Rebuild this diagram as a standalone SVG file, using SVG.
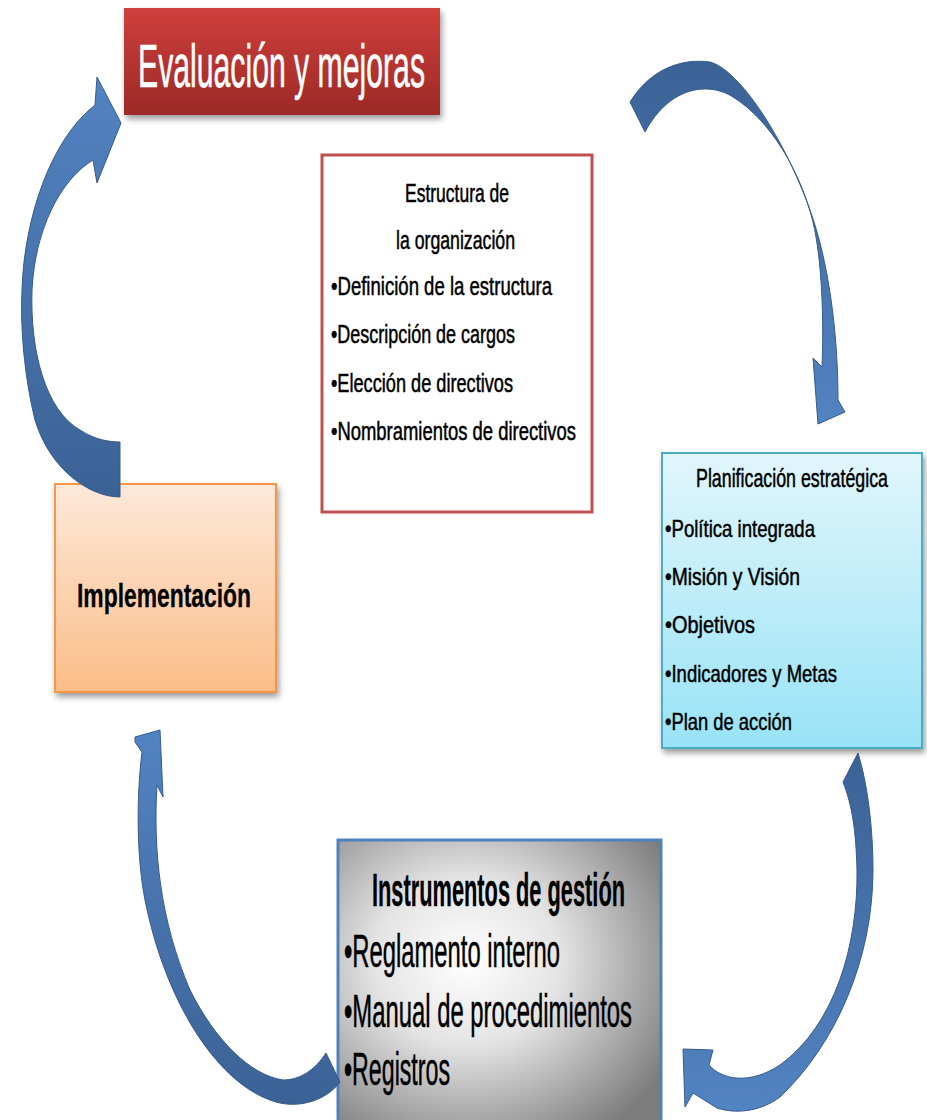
<svg xmlns="http://www.w3.org/2000/svg" width="927" height="1120" viewBox="0 0 927 1120">
<defs>
<linearGradient id="gTitle" x1="0" y1="0" x2="0" y2="1"><stop offset="0" stop-color="#cf3f3c"/><stop offset="1" stop-color="#9c2926"/></linearGradient>
<linearGradient id="gImpl" x1="0" y1="0" x2="0" y2="1"><stop offset="0" stop-color="#fde9da"/><stop offset="1" stop-color="#fbbd88"/></linearGradient>
<linearGradient id="gPlan" x1="0" y1="0" x2="0" y2="1"><stop offset="0" stop-color="#e2f6fc"/><stop offset="1" stop-color="#98e3f6"/></linearGradient>
<radialGradient id="gInst" cx="0.4" cy="0.42" r="0.72"><stop offset="0" stop-color="#ffffff"/><stop offset="0.4" stop-color="#e4e4e4"/><stop offset="1" stop-color="#7c7c7c"/></radialGradient>
<linearGradient id="gArrUp" x1="0" y1="0" x2="0" y2="1"><stop offset="0" stop-color="#5283c2"/><stop offset="1" stop-color="#3b6295"/></linearGradient>
<linearGradient id="gArrDown" x1="0" y1="0" x2="0" y2="1"><stop offset="0" stop-color="#3b6295"/><stop offset="1" stop-color="#5283c2"/></linearGradient>
<filter id="shadow" x="-10%" y="-10%" width="130%" height="130%"><feGaussianBlur in="SourceAlpha" stdDeviation="3"/><feOffset dx="2" dy="4" result="b"/><feComponentTransfer><feFuncA type="linear" slope="0.4"/></feComponentTransfer><feMerge><feMergeNode/><feMergeNode in="SourceGraphic"/></feMerge></filter>
</defs>
<style>
text{font-family:"Liberation Sans",Arial,sans-serif;fill:#000;stroke:#000;stroke-width:0.5}
.wt{fill:#ffffff;stroke:#ffffff;stroke-width:0.6}
.b{stroke-width:0.3}
.arrow{stroke:#365a8a;stroke-width:1;stroke-linejoin:round}
</style>
<rect width="927" height="1120" fill="#ffffff"/>

<g id="evaluacion">
<rect x="124" y="8" width="316" height="107" fill="url(#gTitle)" filter="url(#shadow)"/>
<text class="wt" x="138" y="87" font-size="62" textLength="287" lengthAdjust="spacingAndGlyphs">Evaluación y mejoras</text>
</g>

<g id="estructura">
<rect x="322" y="155" width="270" height="357" fill="#ffffff" stroke="#c0504d" stroke-width="3"/>
<text x="405" y="202" font-size="25" textLength="104" lengthAdjust="spacingAndGlyphs">Estructura de</text>
<text x="396" y="249" font-size="25" textLength="119" lengthAdjust="spacingAndGlyphs">la organización</text>
<text x="331" y="295" font-size="25" textLength="221" lengthAdjust="spacingAndGlyphs">•Definición  de la estructura</text>
<text x="331" y="343" font-size="25" textLength="184" lengthAdjust="spacingAndGlyphs">•Descripción de cargos</text>
<text x="331" y="392" font-size="25" textLength="182" lengthAdjust="spacingAndGlyphs">•Elección de directivos</text>
<text x="331" y="440" font-size="25" textLength="245" lengthAdjust="spacingAndGlyphs">•Nombramientos de directivos</text>
</g>

<g id="planificacion">
<rect x="662" y="453" width="260" height="295" fill="url(#gPlan)" stroke="#4bacc6" stroke-width="2" filter="url(#shadow)"/>
<text x="696" y="487" font-size="25" textLength="192" lengthAdjust="spacingAndGlyphs">Planificación  estratégica</text>
<text x="665" y="537" font-size="24" textLength="150" lengthAdjust="spacingAndGlyphs">•Política integrada</text>
<text x="665" y="585" font-size="24" textLength="135" lengthAdjust="spacingAndGlyphs">•Misión  y Visión</text>
<text x="665" y="633" font-size="24" textLength="90" lengthAdjust="spacingAndGlyphs">•Objetivos</text>
<text x="665" y="682" font-size="24" textLength="172" lengthAdjust="spacingAndGlyphs">•Indicadores y Metas</text>
<text x="665" y="730" font-size="24" textLength="127" lengthAdjust="spacingAndGlyphs">•Plan de acción</text>
</g>

<g id="implementacion">
<rect x="55" y="484" width="221" height="208" fill="url(#gImpl)" stroke="#f79646" stroke-width="2" filter="url(#shadow)"/>
<text class="b" x="77" y="607" font-size="33" font-weight="bold" textLength="174" lengthAdjust="spacingAndGlyphs">Implementación</text>
</g>

<g id="instrumentos">
<rect x="338" y="840" width="323" height="290" fill="url(#gInst)" stroke="#4f81bd" stroke-width="3"/>
<text class="b" x="372" y="906" font-size="46" font-weight="bold" textLength="253" lengthAdjust="spacingAndGlyphs">Instrumentos de gestión</text>
<text x="344" y="967" font-size="46" textLength="216" lengthAdjust="spacingAndGlyphs">•Reglamento interno</text>
<text x="344" y="1027" font-size="46" textLength="288" lengthAdjust="spacingAndGlyphs">•Manual de procedimientos</text>
<text x="344" y="1085" font-size="46" textLength="106" lengthAdjust="spacingAndGlyphs">•Registros</text>
</g>

<g id="connectors">
<path id="arrow-impl-eval" class="arrow" fill="url(#gArrUp)" d="M120,497 C90,497 50,470 35,420 C25,380 20,330 22,290 C24,220 50,140 95,105 L97,77 L121,123 L97,183 L93,160 C60,180 35,230 32,290 C30,350 45,410 80,430 C95,440 110,442 120,442 Z"/>
<path id="arrow-eval-plan" class="arrow" fill="url(#gArrDown)" d="M630,102 C650,70 680,58 710,62 C740,70 785,140 810,210 C828,260 838,330 838,400 L845,412 L818,424 L813,358 L822,367 C824,320 822,260 813,222 C800,170 770,120 733,97 C710,82 670,85 645,132 Z"/>
<path id="arrow-plan-inst" class="arrow" fill="url(#gArrDown)" d="M858,753 C868,785 873,830 873,870 C873,960 835,1045 780,1097 C760,1112 735,1114 717,1108 L693,1093 L685,1107 L683,1049 L713,1050 L709,1065 C722,1080 750,1085 780,1065 C835,1025 858,945 857,870 C856,830 852,805 843,782 Z"/>
<path id="arrow-inst-impl" class="arrow" fill="url(#gArrUp)" d="M340,1082 C325,1102 295,1110 270,1100 C215,1080 165,1000 145,900 C137,860 136,800 142,752 L135,742 L135,737 L160,730 L163,797 L157,785 C153,850 160,920 190,990 C215,1040 250,1075 283,1080 C300,1080 315,1070 326,1053 Z"/>
</g>
</svg>
